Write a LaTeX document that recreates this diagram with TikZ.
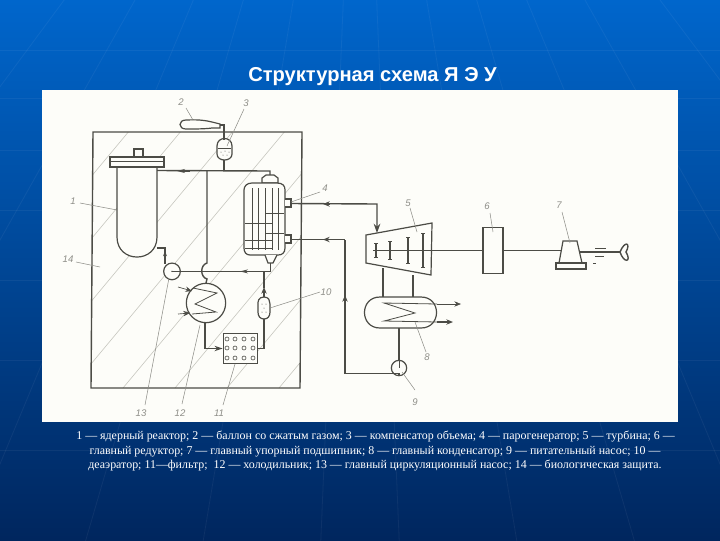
\documentclass[tikz,border=0pt]{standalone}
\usepackage{fontspec}
\setmainfont{Liberation Serif}
\newfontfamily\titlefont{Liberation Sans}
\usetikzlibrary{arrows.meta}
\definecolor{inkc}{HTML}{4C4C46}
\definecolor{hatchc}{HTML}{C8C8C0}
\definecolor{leadc}{HTML}{8E8E88}
\definecolor{paperc}{HTML}{FDFDF9}
\definecolor{bgtop}{HTML}{0066CC}
\definecolor{bgmid}{HTML}{044C98}
\definecolor{bgbot}{HTML}{00265E}
\tikzset{
  eq/.style={draw=inkc,line width=0.9pt,fill=paperc},
  pipe/.style={draw=inkc,line width=1.05pt},
  flow/.style={pipe,-{Stealth[length=5pt,width=4pt]}},
  thinline/.style={draw=inkc,line width=0.6pt},
  leader/.style={draw=leadc,line width=0.4pt},
  num/.style={text=leadc,font=\titlefont\itshape\fontsize{7.2}{8}\selectfont,inner sep=0pt},
  hatchl/.style={draw=hatchc,line width=0.45pt},
  bgline/.style={draw=white,opacity=0.05,line width=0.6pt},
  captxt/.style={text=white,font=\fontsize{8.95}{10}\selectfont,inner sep=0pt},
  dotc/.style={circle,draw=inkc,line width=0.45pt,fill=paperc,minimum size=3pt,inner sep=0pt},
}
\begin{document}
\begin{tikzpicture}[x=0.75pt,y=-0.75pt]
\useasboundingbox (0,0) rectangle (720,540);
% background
\shade[top color=bgtop,middle color=bgmid,bottom color=bgbot] (0,0) rectangle (720,540);
\begin{scope}
\clip (0,0) rectangle (720,540);
\foreach \x in {-1500,-1100,-800,-550,-350,-180,-40,80,200,320,400,520,640,760,900,1080,1300,1600,2000}
  \draw[bgline] (360,-400) -- (\x,560);
\foreach \y in {50,98,150,210,280,360,450}
  \draw[bgline] (0,\y) -- (720,\y);
\end{scope}
% title
\node[text=white,font=\titlefont\bfseries\fontsize{15.1}{17}\selectfont,inner sep=0pt] (title) at (372.5,77) {Структурная схема Я Э У};
% panel
\fill[paperc] (42,90) rectangle (678,422);
% shield
\coordinate (shA) at (93,132); \coordinate (shB) at (302,132); \coordinate (shC) at (300,388); \coordinate (shD) at (91,388);
\begin{scope}
\clip (shA) -- (shB) -- (shC) -- (shD) -- cycle;
\foreach \c in {255,307,359,411,463,515,567,619,671}
  \draw[hatchl] (\c-100,100) -- (\c-350,400);
\end{scope}
\draw[pipe] (shA) -- (shB) -- (shC) -- (shD) -- cycle;
% leaders
\coordinate (l1a) at (80,203); \coordinate (l1b) at (117,210);
\coordinate (l14a) at (76,262); \coordinate (l14b) at (100,267);
\draw[leader] (l1a) -- (l1b);
\draw[leader] (l14a) -- (l14b);
% reactor
\node[eq,minimum width=6.75pt,minimum height=6pt,inner sep=0pt] (cap1) at (138.5,153) {};
\draw[eq] (117,167) -- (117,237) .. controls (117,263.7) and (157,263.7) .. (157,237) -- (157,167) -- cycle;
\draw[eq] (110,157) rectangle (164,167);
\draw[thinline] (110,161.5) -- (164,161.5);
\coordinate (reOut) at (157,170.5); \coordinate (reIn) at (157,248);
% balloon 2
\draw[eq] (220,124) -- (212,122) .. controls (200,119) and (190,120) .. (186,120) .. controls (178,120) and (178,129) .. (186,129) .. controls (195,129) and (205,129) .. (212,128) -- (220,128) -- cycle;
\coordinate (bal) at (220,125);
% compensator 3
\draw[eq] (217,146) .. controls (217,136) and (232,136) .. (232,146) -- (232,154) .. controls (232,162) and (217,162) .. (217,154) -- cycle;
\coordinate (pzTop) at (224,140); \coordinate (pzBot) at (224,160);
\draw[thinline] (218,148) -- (231,148);
\foreach \p in {(221,152),(225,151),(229,152),(223,155),(227,155)} \fill[inkc] \p circle (0.5);
\draw[pipe] (bal) -| (pzTop);
\coordinate (mainT) at (224,171);
\draw[pipe] (pzBot) -- (mainT);
% main hot line
\coordinate (sgIn) at (270,171);
\coordinate (sgTop) at (270,176);
\coordinate (vT) at (207,171);
\draw[pipe] (reOut) -- (sgIn) -- (sgTop);
\draw[pipe,-{Stealth[length=6pt,width=3pt]}] (190,171) -- (177,171);
% vertical line down with hump
\coordinate (vH1) at (207,263); \coordinate (vH2) at (207,279);
\coordinate (clIn) at (206,283);
\draw[pipe] (vT) -- (vH1) .. controls (200,265) and (200,277) .. (vH2) -- (clIn);
% steam generator
\draw[eq] (262,183) -- (262,178) -- (266,175) -- (274,175) -- (278,178) -- (278,183) -- cycle;
\draw[eq] (252,183) -- (277,183) .. controls (283,183) and (285,186) .. (285,190) -- (285,248) .. controls (285,253) and (282,255) .. (278,255) -- (250,255) .. controls (246,255) and (244,252) .. (244,248) -- (244,190) .. controls (244,186) and (247,183) .. (252,183) -- cycle;
\foreach \x in {252,258,265,272,278} \draw[thinline] (\x,188) -- (\x,250);
\draw[thinline] (265,213) -- (284,213);
\draw[thinline] (245,223) -- (272,223);
\draw[thinline] (265,233) -- (284,233);
\draw[thinline] (245,240) -- (272,240);
\draw[thinline] (245,248) -- (272,248);
% SG nozzles
\draw[eq] (285,199) -- (291,199) -- (291,207) -- (285,207);
\draw[eq] (285,235) -- (291,235) -- (291,243) -- (285,243);
\coordinate (sgS) at (291,203.5); \coordinate (sgR) at (291,239.5);
\draw[eq] (265,255) -- (268,263) -- (273,263) -- (277,255);
\coordinate (sgB) at (270.5,263);
\coordinate (mainR) at (270.5,271.4);
\draw[pipe] (sgB) -- (mainR);
% pump 13
\node[eq,circle,minimum size=12.5pt,inner sep=0pt] (p13) at (172,271.4) {};
\fill[inkc] (172,271.4) circle (0.8);
\draw[pipe] (reIn) -- (165,248) -- (165,264);
\draw[pipe,-{Stealth[length=4pt,width=3pt]}] (165,256) -- (165,251);
\draw[pipe] (mainR) -- (p13.center);
\draw[pipe,-{Stealth[length=6pt,width=3pt]}] (250,271.4) -- (240,271.4);
% cooler 12
\node[eq,circle,minimum size=29.5pt,inner sep=0pt] (c12) at (206,303) {};
\draw[thinline] (193,288) -- (217,293) -- (195,304) -- (216,312) -- (192,314);
\coordinate (c12a) at (178,287); \coordinate (c12b) at (178,314);
\draw[flow,line width=0.5pt] (c12a) -- (192,291);
\draw[flow,line width=0.5pt] (c12b) -- (190,313);
% filter 11
\node[eq,minimum width=26pt,minimum height=23pt,inner sep=0pt] (f11) at (240.5,348.5) {};
\foreach \x in {227,235,244,253}
  \foreach \y in {339,348,358}
    \node[dotc] (d\x\y) at (\x,\y) {};
\draw[pipe,-{Stealth[length=6pt,width=4pt]}] (205,323) -- (205,348.5) -- (f11.west);
% 10
\draw[eq] (264,297) .. controls (258,297) and (258,302) .. (258,304) -- (258,312) .. controls (258,316) and (260,319) .. (264,319) .. controls (268,319) and (270,316) .. (270,312) -- (270,304) .. controls (270,301) and (269,297) .. (264,297) -- cycle;
\foreach \p in {(262,304),(266,304),(264,308),(262,312),(266,312)} \fill[inkc] \p circle (0.5);
\coordinate (f10T) at (264,297); \coordinate (f10B) at (264,319);
\draw[pipe] (f11.east) -| (f10B);
\draw[flow] (f10T) -- (264,287);
\draw[pipe] (264,288) -- (264,271.4);
% turbine 5
\draw[eq] (366,235) -- (432,223) -- (431,275) -- (366,263) -- cycle;
\coordinate (tIn) at (377,233);
\coordinate (stB) at (377,204);
\coordinate (retA) at (345,240); \coordinate (retB) at (345,373);
\draw[pipe,-{Stealth[length=7pt,width=5pt]}] (sgS) -- (stB) -- (tIn);
\draw[pipe] (sgR) -- (345,239.5);
\draw[pipe,-{Stealth[length=5pt,width=4pt]}] (330,204) -- (323,204);
\draw[pipe,-{Stealth[length=5pt,width=4pt]}] (330,239.5) -- (323,239.5);
\draw[pipe] (373,250.5) -- (432,250.5);
\foreach \x/\a/\b in {376/243/257,390/241/259,408/237/263,423/233/267}{
  \draw[pipe] (\x,\a) -- (\x,\b);
  \draw[thinline] (\x-2,\a) -- (\x+2,\a);
  \draw[thinline] (\x-2,\b) -- (\x+2,\b);
}
% condenser 8
\draw[eq] (380,297) -- (421,297) .. controls (441.7,297) and (441.7,328) .. (421,328) -- (380,328) .. controls (359.3,328) and (359.3,297) .. (380,297) -- cycle;
\draw[thinline] (437,304) -- (384,303) -- (415,313) -- (384,321) -- (437,322);
\draw[flow,line width=0.5pt] (437,304) -- (461,304);
\draw[flow] (437,322) -- (453,322);
\draw[pipe] (383,268) -- (383,297);
\draw[pipe] (413,275) -- (413,297);
% pump 9
\node[eq,circle,minimum size=11.5pt,inner sep=0pt] (p9) at (399,368) {};
\draw[pipe] (399,328) -- (p9.north);
\draw[thinline] (p9.north) -- (p9.center);
\draw[pipe] (p9.south) -- (399,373.5) -- (345,373.5) -- (retA);
\draw[pipe,-{Stealth[length=5pt,width=4pt]}] (345,310) -- (345,295);
% gearbox 6
\node[eq,minimum width=15pt,minimum height=34.5pt,inner sep=0pt] (g6) at (493,250.5) {};
\draw[pipe] (432,250.5) -- (g6.west);
% bearing 7
\draw[eq] (563,241) -- (577,241) -- (582,263) -- (559,263) -- cycle;
\draw[eq] (556,263) rectangle (586,269);
\draw[pipe] (g6.east) -- (561,250.5);
\coordinate (prop) at (620,252);
\draw[pipe] (579,252) -- (prop);
\draw[pipe] (prop) .. controls (625,240) and (631,243) .. (626,252) .. controls (632,262) and (624,264) .. (prop);
\draw[thinline] (595,248) -- (606,248);
\draw[thinline] (595,251.5) -- (606,251.5);
\draw[thinline] (595,256) -- (604,256);
\draw[thinline] (593,263) -- (596,263);
% other leaders
\draw[leader] (186,108) -- (193,120);
\draw[leader] (244,109) -- (227,146);
\draw[leader] (320,192) -- (291,202);
\draw[leader] (410,208) -- (417,232);
\draw[leader] (490,213) -- (493,232);
\draw[leader] (562,212) -- (570,243);
\draw[leader] (426,352) -- (415,322);
\draw[leader] (415,390) -- (402,372);
\draw[leader] (320,292) -- (270,308);
\draw[leader] (223,405) -- (235,364);
\draw[leader] (182,404) -- (200,325);
\draw[leader] (145,405) -- (169,278);
% numbers
\node[num] (n1) at (73,201) {1};
\node[num] (n2) at (181,102) {2};
\node[num] (n3) at (246,103) {3};
\node[num] (n4) at (325,188) {4};
\node[num] (n5) at (408,203) {5};
\node[num] (n6) at (487,206) {6};
\node[num] (n7) at (559,205) {7};
\node[num] (n8) at (427,357) {8};
\node[num] (n9) at (415,402) {9};
\node[num] (n10) at (326,292) {10};
\node[num] (n11) at (219,413) {11};
\node[num] (n12) at (180,413) {12};
\node[num] (n13) at (141,413) {13};
\node[num] (n14) at (68,259) {14};
% caption
\node[captxt] (c1) at (375.5,437) {1 — ядерный реактор; 2 — баллон со сжатым газом; 3 — компенсатор объема; 4 — парогенератор; 5 — турбина; 6 —};
\node[captxt] (c2) at (375,452) {главный редуктор; 7 — главный упорный подшипник; 8 — главный конденсатор; 9 — питательный насос; 10 —};
\node[captxt] (c3) at (375,466) {деаэратор; 11—фильтр;\ \ 12 — холодильник; 13 — главный циркуляционный насос; 14 — биологическая защита.};
\end{tikzpicture}
\end{document}
